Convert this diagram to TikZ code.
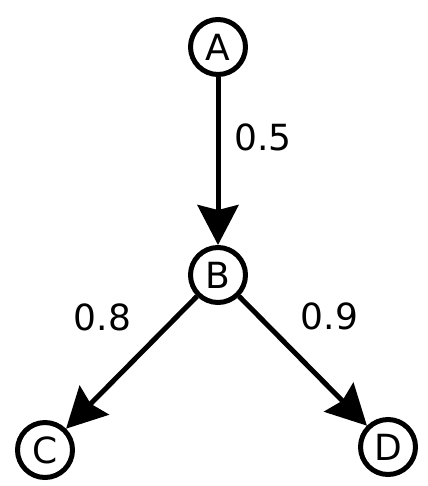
\documentclass[tikz,border=0pt]{standalone}
\usepackage{fontspec}
\setmainfont{DejaVu Sans}
\usepackage{tikz}
\usetikzlibrary{arrows.meta,positioning}

\begin{document}
\begin{tikzpicture}[x=0.02cm, y=-0.02cm, >={Stealth[length=0.8cm,width=0.82cm,inset=0.1cm]},
    every node/.style={font=\fontsize{20.5}{24}\selectfont},
    vertex/.style={draw, circle, line width=0.1cm, minimum size=1.1cm, inner sep=0pt},
    edge/.style={->, line width=0.1cm}]
  \useasboundingbox (0,0) rectangle (428,486);

  % Vertices
  \node[vertex] (A) at (218,47)  {A};
  \node[vertex] (B) at (218,275) {B};
  \node[vertex] (C) at (45,450)  {C};
  \node[vertex] (D) at (388,447) {D};

  % Edges
  \draw[edge] (A) -- (B);
  \draw[edge] (B) -- (C);
  \draw[edge] (B) -- (D);

  % Weights
  \node (wAB) at (263,137.5) {0.5};
  \node (wBC) at (102.5,317) {0.8};
  \node (wBD) at (329.5,316.5) {0.9};
\end{tikzpicture}
\end{document}
